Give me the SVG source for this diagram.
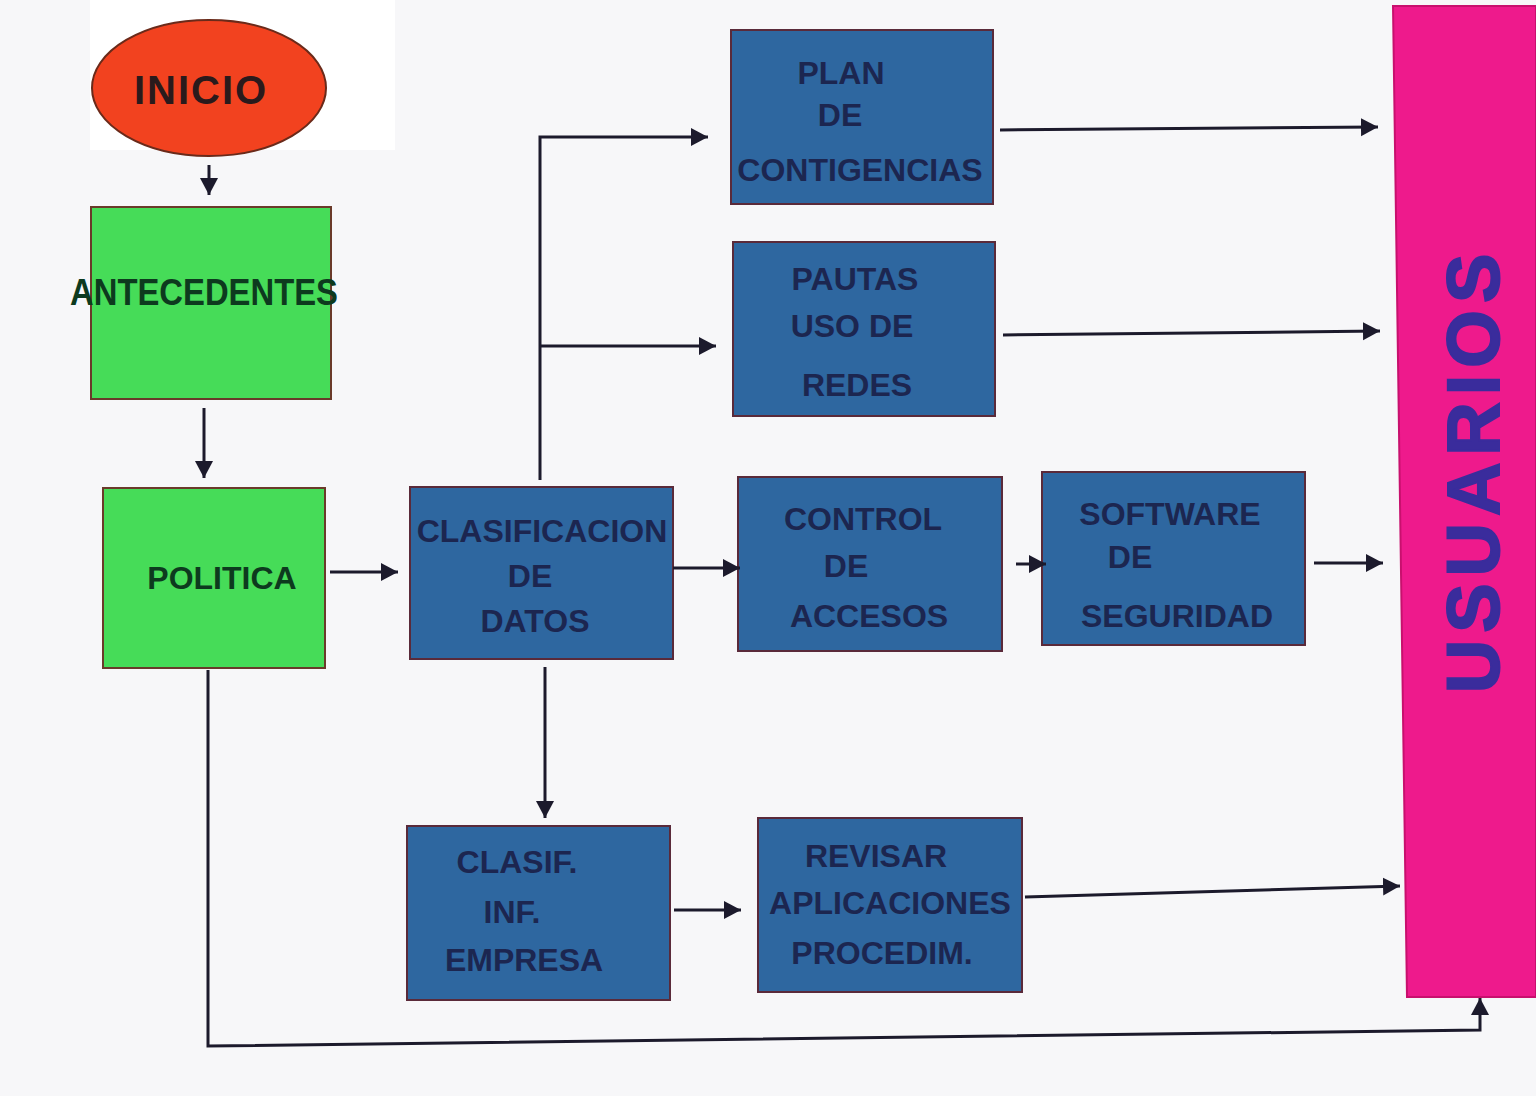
<svg xmlns="http://www.w3.org/2000/svg" width="1536" height="1096" viewBox="0 0 1536 1096">
<defs>
<marker id="ah" markerUnits="userSpaceOnUse" markerWidth="20" markerHeight="20" refX="17" refY="9" orient="auto">
<path d="M0,0 L17,9 L0,18 Z" fill="#1c1a2c"/>
</marker>
<style>
.bg{fill:#f7f7f9}
.blue{fill:#2e67a0;stroke:#5a2a3a;stroke-width:2}
.green{fill:#46dc58;stroke:#6a3a2a;stroke-width:2}
.bt{font-family:"Liberation Sans",Arial,sans-serif;font-weight:bold;font-size:32px;fill:#1c2650;text-anchor:middle}
.gt{font-family:"Liberation Sans",Arial,sans-serif;font-weight:bold;fill:#0d3a1e;text-anchor:middle}
.con{fill:none;stroke:#1c1a2c;stroke-width:3}
.arr{fill:none;stroke:#1c1a2c;stroke-width:3;marker-end:url(#ah)}
</style>
</defs>
<rect class="bg" x="0" y="0" width="1536" height="1096"/>
<rect x="90" y="0" width="305" height="150" fill="#ffffff"/>

<g id="inicio">
<ellipse cx="209" cy="88" rx="117" ry="68" fill="#f2421f" stroke="#6a2a1a" stroke-width="2"/>
<text x="201" y="104" font-family="Liberation Sans,Arial,sans-serif" font-weight="bold" font-size="40" fill="#2a1a1c" text-anchor="middle" letter-spacing="2">INICIO</text>
</g>

<g id="antecedentes">
<rect class="green" x="91" y="207" width="240" height="192"/>
<text class="gt" x="204" y="305" font-size="36" textLength="268" lengthAdjust="spacingAndGlyphs">ANTECEDENTES</text>
</g>

<g id="politica">
<rect class="green" x="103" y="488" width="222" height="180"/>
<text class="gt" x="222" y="589" font-size="32">POLITICA</text>
</g>

<g id="clasificacion">
<rect class="blue" x="410" y="487" width="263" height="172"/>
<text class="bt" x="542" y="542" font-size="33">CLASIFICACION</text>
<text class="bt" x="530" y="587">DE</text>
<text class="bt" x="535" y="632">DATOS</text>
</g>

<g id="plan">
<rect class="blue" x="731" y="30" width="262" height="174"/>
<text class="bt" x="841" y="84">PLAN</text>
<text class="bt" x="840" y="126">DE</text>
<text class="bt" x="860" y="181">CONTIGENCIAS</text>
</g>

<g id="pautas">
<rect class="blue" x="733" y="242" width="262" height="174"/>
<text class="bt" x="855" y="290">PAUTAS</text>
<text class="bt" x="852" y="337">USO DE</text>
<text class="bt" x="857" y="396">REDES</text>
</g>

<g id="control">
<rect class="blue" x="738" y="477" width="264" height="174"/>
<text class="bt" x="863" y="530">CONTROL</text>
<text class="bt" x="846" y="577">DE</text>
<text class="bt" x="869" y="627">ACCESOS</text>
</g>

<g id="software">
<rect class="blue" x="1042" y="472" width="263" height="173"/>
<text class="bt" x="1170" y="525">SOFTWARE</text>
<text class="bt" x="1130" y="568">DE</text>
<text class="bt" x="1177" y="627">SEGURIDAD</text>
</g>

<g id="clasif-inf">
<rect class="blue" x="407" y="826" width="263" height="174"/>
<text class="bt" x="517" y="873">CLASIF.</text>
<text class="bt" x="512" y="923">INF.</text>
<text class="bt" x="524" y="971">EMPRESA</text>
</g>

<g id="revisar">
<rect class="blue" x="758" y="818" width="264" height="174"/>
<text class="bt" x="876" y="867">REVISAR</text>
<text class="bt" x="890" y="914">APLICACIONES</text>
<text class="bt" x="882" y="964">PROCEDIM.</text>
</g>

<g id="usuarios">
<polygon points="1393,6 1536,6 1536,997 1407,997" fill="#ee1a8c" stroke="#c8106e" stroke-width="2"/>
<text x="1499" y="470" transform="rotate(-90 1499 470)" font-family="Liberation Sans,Arial,sans-serif" font-weight="bold" font-size="74" fill="#3a2c9c" stroke="#3a2c9c" stroke-width="2" text-anchor="middle" letter-spacing="7">USUARIOS</text>
</g>

<g id="connectors">
<line class="arr" x1="209" y1="165" x2="209" y2="195"/>
<line class="arr" x1="204" y1="408" x2="204" y2="478"/>
<line class="arr" x1="330" y1="572" x2="398" y2="572"/>
<polyline class="arr" points="540,480 540,137 708,137"/>
<line class="arr" x1="540" y1="346" x2="716" y2="346"/>
<line class="arr" x1="1000" y1="130" x2="1378" y2="127"/>
<line class="arr" x1="1003" y1="335" x2="1380" y2="331"/>
<line class="arr" x1="673" y1="568" x2="740" y2="568"/>
<line class="arr" x1="1016" y1="564" x2="1046" y2="564"/>
<line class="arr" x1="1314" y1="563" x2="1383" y2="563"/>
<line class="arr" x1="545" y1="667" x2="545" y2="818"/>
<line class="arr" x1="674" y1="910" x2="741" y2="910"/>
<line class="arr" x1="1025" y1="897" x2="1400" y2="886"/>
<polyline class="arr" points="208,670 208,1046 1480,1030 1480,998"/>
</g>
</svg>
